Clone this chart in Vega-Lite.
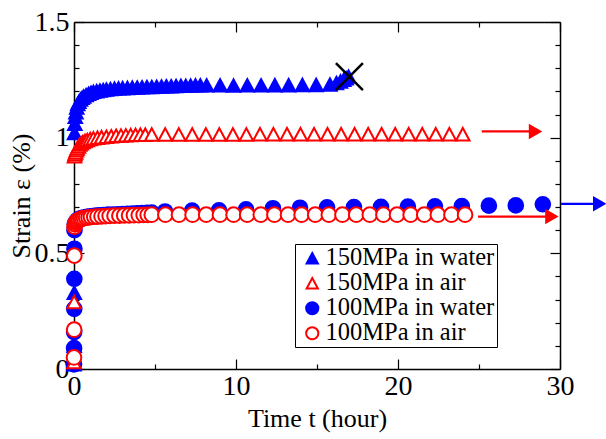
{
  "$schema": "https://vega.github.io/schema/vega-lite/v6.json",
  "width": 486,
  "height": 347,
  "autosize": {"type": "none"},
  "padding": {"left": 74, "top": 22, "right": 46, "bottom": 70},
  "config": {
    "view": {"stroke": null},
    "font": "Liberation Serif"
  },
  "data": {
    "values": [
      {"series": "150MPa in water", "t": 0, "strain": 0.02},
      {"series": "150MPa in water", "t": 0.01, "strain": 0.1},
      {"series": "150MPa in water", "t": 0.02, "strain": 0.33},
      {"series": "150MPa in water", "t": 0.03, "strain": 1.02},
      {"series": "150MPa in water", "t": 0.05, "strain": 1.06},
      {"series": "150MPa in water", "t": 0.08, "strain": 1.09},
      {"series": "150MPa in water", "t": 0.12, "strain": 1.11},
      {"series": "150MPa in water", "t": 0.17, "strain": 1.13},
      {"series": "150MPa in water", "t": 0.23, "strain": 1.145},
      {"series": "150MPa in water", "t": 0.3, "strain": 1.155},
      {"series": "150MPa in water", "t": 0.4, "strain": 1.165},
      {"series": "150MPa in water", "t": 0.5, "strain": 1.172},
      {"series": "150MPa in water", "t": 0.6, "strain": 1.178},
      {"series": "150MPa in water", "t": 0.75, "strain": 1.184},
      {"series": "150MPa in water", "t": 0.9, "strain": 1.19},
      {"series": "150MPa in water", "t": 1.05, "strain": 1.194},
      {"series": "150MPa in water", "t": 1.2, "strain": 1.198},
      {"series": "150MPa in water", "t": 1.4, "strain": 1.201},
      {"series": "150MPa in water", "t": 1.6, "strain": 1.204},
      {"series": "150MPa in water", "t": 1.8, "strain": 1.206},
      {"series": "150MPa in water", "t": 2.0, "strain": 1.208},
      {"series": "150MPa in water", "t": 2.25, "strain": 1.21},
      {"series": "150MPa in water", "t": 2.5, "strain": 1.212},
      {"series": "150MPa in water", "t": 2.75, "strain": 1.213},
      {"series": "150MPa in water", "t": 3.0, "strain": 1.214},
      {"series": "150MPa in water", "t": 3.3, "strain": 1.215},
      {"series": "150MPa in water", "t": 3.6, "strain": 1.216},
      {"series": "150MPa in water", "t": 3.9, "strain": 1.217},
      {"series": "150MPa in water", "t": 4.2, "strain": 1.218},
      {"series": "150MPa in water", "t": 4.5, "strain": 1.219},
      {"series": "150MPa in water", "t": 4.8, "strain": 1.219},
      {"series": "150MPa in water", "t": 5.1, "strain": 1.22},
      {"series": "150MPa in water", "t": 5.4, "strain": 1.221},
      {"series": "150MPa in water", "t": 5.7, "strain": 1.222},
      {"series": "150MPa in water", "t": 6.0, "strain": 1.222},
      {"series": "150MPa in water", "t": 6.3, "strain": 1.223},
      {"series": "150MPa in water", "t": 6.6, "strain": 1.224},
      {"series": "150MPa in water", "t": 6.9, "strain": 1.224},
      {"series": "150MPa in water", "t": 7.2, "strain": 1.225},
      {"series": "150MPa in water", "t": 7.5, "strain": 1.226},
      {"series": "150MPa in water", "t": 7.8, "strain": 1.226},
      {"series": "150MPa in water", "t": 8.19, "strain": 1.226},
      {"series": "150MPa in water", "t": 9.02, "strain": 1.226},
      {"series": "150MPa in water", "t": 9.85, "strain": 1.225},
      {"series": "150MPa in water", "t": 10.7, "strain": 1.226},
      {"series": "150MPa in water", "t": 11.55, "strain": 1.226},
      {"series": "150MPa in water", "t": 12.4, "strain": 1.227},
      {"series": "150MPa in water", "t": 13.25, "strain": 1.227},
      {"series": "150MPa in water", "t": 14.1, "strain": 1.228},
      {"series": "150MPa in water", "t": 14.95, "strain": 1.228},
      {"series": "150MPa in water", "t": 15.8, "strain": 1.23},
      {"series": "150MPa in water", "t": 16.2, "strain": 1.236},
      {"series": "150MPa in water", "t": 16.45, "strain": 1.243},
      {"series": "150MPa in water", "t": 16.65, "strain": 1.25},
      {"series": "150MPa in water", "t": 16.8, "strain": 1.257},
      {"series": "150MPa in water", "t": 16.95, "strain": 1.264},

      {"series": "100MPa in water", "t": 0, "strain": 0.02},
      {"series": "100MPa in water", "t": 0.005, "strain": 0.09},
      {"series": "100MPa in water", "t": 0.01, "strain": 0.16},
      {"series": "100MPa in water", "t": 0.015, "strain": 0.26},
      {"series": "100MPa in water", "t": 0.02, "strain": 0.39},
      {"series": "100MPa in water", "t": 0.025, "strain": 0.52},
      {"series": "100MPa in water", "t": 0.03, "strain": 0.6},
      {"series": "100MPa in water", "t": 0.05, "strain": 0.626},
      {"series": "100MPa in water", "t": 0.1, "strain": 0.634},
      {"series": "100MPa in water", "t": 0.2, "strain": 0.643},
      {"series": "100MPa in water", "t": 0.3, "strain": 0.648},
      {"series": "100MPa in water", "t": 0.45, "strain": 0.652},
      {"series": "100MPa in water", "t": 0.6, "strain": 0.655},
      {"series": "100MPa in water", "t": 0.8, "strain": 0.658},
      {"series": "100MPa in water", "t": 1.0, "strain": 0.66},
      {"series": "100MPa in water", "t": 1.25, "strain": 0.662},
      {"series": "100MPa in water", "t": 1.5, "strain": 0.664},
      {"series": "100MPa in water", "t": 1.8, "strain": 0.665},
      {"series": "100MPa in water", "t": 2.1, "strain": 0.667},
      {"series": "100MPa in water", "t": 2.4, "strain": 0.668},
      {"series": "100MPa in water", "t": 2.7, "strain": 0.669},
      {"series": "100MPa in water", "t": 3.0, "strain": 0.67},
      {"series": "100MPa in water", "t": 3.3, "strain": 0.671},
      {"series": "100MPa in water", "t": 3.6, "strain": 0.672},
      {"series": "100MPa in water", "t": 3.9, "strain": 0.673},
      {"series": "100MPa in water", "t": 4.2, "strain": 0.674},
      {"series": "100MPa in water", "t": 4.5, "strain": 0.675},
      {"series": "100MPa in water", "t": 4.8, "strain": 0.676},
      {"series": "100MPa in water", "t": 5.62, "strain": 0.681},
      {"series": "100MPa in water", "t": 7.29, "strain": 0.685},
      {"series": "100MPa in water", "t": 8.95, "strain": 0.686},
      {"series": "100MPa in water", "t": 10.62, "strain": 0.69},
      {"series": "100MPa in water", "t": 12.28, "strain": 0.695},
      {"series": "100MPa in water", "t": 13.95, "strain": 0.697},
      {"series": "100MPa in water", "t": 15.62, "strain": 0.699},
      {"series": "100MPa in water", "t": 17.28, "strain": 0.7},
      {"series": "100MPa in water", "t": 18.95, "strain": 0.701},
      {"series": "100MPa in water", "t": 20.61, "strain": 0.702},
      {"series": "100MPa in water", "t": 22.28, "strain": 0.703},
      {"series": "100MPa in water", "t": 23.94, "strain": 0.704},
      {"series": "100MPa in water", "t": 25.61, "strain": 0.706},
      {"series": "100MPa in water", "t": 27.27, "strain": 0.707},
      {"series": "100MPa in water", "t": 28.94, "strain": 0.712},

      {"series": "150MPa in air", "t": 0, "strain": 0.03},
      {"series": "150MPa in air", "t": 0.01, "strain": 0.29},
      {"series": "150MPa in air", "t": 0.03, "strain": 0.92},
      {"series": "150MPa in air", "t": 0.06, "strain": 0.928},
      {"series": "150MPa in air", "t": 0.1, "strain": 0.936},
      {"series": "150MPa in air", "t": 0.15, "strain": 0.945},
      {"series": "150MPa in air", "t": 0.2, "strain": 0.953},
      {"series": "150MPa in air", "t": 0.28, "strain": 0.962},
      {"series": "150MPa in air", "t": 0.36, "strain": 0.97},
      {"series": "150MPa in air", "t": 0.45, "strain": 0.976},
      {"series": "150MPa in air", "t": 0.55, "strain": 0.981},
      {"series": "150MPa in air", "t": 0.68, "strain": 0.986},
      {"series": "150MPa in air", "t": 0.82, "strain": 0.99},
      {"series": "150MPa in air", "t": 1.0, "strain": 0.994},
      {"series": "150MPa in air", "t": 1.2, "strain": 0.997},
      {"series": "150MPa in air", "t": 1.45, "strain": 1.0},
      {"series": "150MPa in air", "t": 1.7, "strain": 1.002},
      {"series": "150MPa in air", "t": 2.0, "strain": 1.004},
      {"series": "150MPa in air", "t": 2.3, "strain": 1.006},
      {"series": "150MPa in air", "t": 2.6, "strain": 1.008},
      {"series": "150MPa in air", "t": 2.9, "strain": 1.009},
      {"series": "150MPa in air", "t": 3.2, "strain": 1.01},
      {"series": "150MPa in air", "t": 3.5, "strain": 1.011},
      {"series": "150MPa in air", "t": 3.8, "strain": 1.012},
      {"series": "150MPa in air", "t": 4.1, "strain": 1.013},
      {"series": "150MPa in air", "t": 4.4, "strain": 1.013},
      {"series": "150MPa in air", "t": 4.8, "strain": 1.014},
      {"series": "150MPa in air", "t": 5.63, "strain": 1.014},
      {"series": "150MPa in air", "t": 6.47, "strain": 1.014},
      {"series": "150MPa in air", "t": 7.3, "strain": 1.014},
      {"series": "150MPa in air", "t": 8.14, "strain": 1.014},
      {"series": "150MPa in air", "t": 8.97, "strain": 1.014},
      {"series": "150MPa in air", "t": 9.81, "strain": 1.014},
      {"series": "150MPa in air", "t": 10.64, "strain": 1.014},
      {"series": "150MPa in air", "t": 11.48, "strain": 1.015},
      {"series": "150MPa in air", "t": 12.31, "strain": 1.015},
      {"series": "150MPa in air", "t": 13.15, "strain": 1.015},
      {"series": "150MPa in air", "t": 13.98, "strain": 1.015},
      {"series": "150MPa in air", "t": 14.82, "strain": 1.015},
      {"series": "150MPa in air", "t": 15.65, "strain": 1.015},
      {"series": "150MPa in air", "t": 16.49, "strain": 1.015},
      {"series": "150MPa in air", "t": 17.32, "strain": 1.015},
      {"series": "150MPa in air", "t": 18.16, "strain": 1.015},
      {"series": "150MPa in air", "t": 18.99, "strain": 1.015},
      {"series": "150MPa in air", "t": 19.83, "strain": 1.015},
      {"series": "150MPa in air", "t": 20.66, "strain": 1.015},
      {"series": "150MPa in air", "t": 21.5, "strain": 1.015},
      {"series": "150MPa in air", "t": 22.33, "strain": 1.015},
      {"series": "150MPa in air", "t": 23.17, "strain": 1.015},
      {"series": "150MPa in air", "t": 24.0, "strain": 1.015},

      {"series": "100MPa in air", "t": 0, "strain": 0.05},
      {"series": "100MPa in air", "t": 0.01, "strain": 0.17},
      {"series": "100MPa in air", "t": 0.02, "strain": 0.49},
      {"series": "100MPa in air", "t": 0.03, "strain": 0.615},
      {"series": "100MPa in air", "t": 0.06, "strain": 0.625},
      {"series": "100MPa in air", "t": 0.1, "strain": 0.632},
      {"series": "100MPa in air", "t": 0.15, "strain": 0.637},
      {"series": "100MPa in air", "t": 0.22, "strain": 0.641},
      {"series": "100MPa in air", "t": 0.3, "strain": 0.645},
      {"series": "100MPa in air", "t": 0.4, "strain": 0.648},
      {"series": "100MPa in air", "t": 0.5, "strain": 0.65},
      {"series": "100MPa in air", "t": 0.62, "strain": 0.652},
      {"series": "100MPa in air", "t": 0.75, "strain": 0.654},
      {"series": "100MPa in air", "t": 0.9, "strain": 0.655},
      {"series": "100MPa in air", "t": 1.05, "strain": 0.657},
      {"series": "100MPa in air", "t": 1.25, "strain": 0.658},
      {"series": "100MPa in air", "t": 1.45, "strain": 0.659},
      {"series": "100MPa in air", "t": 1.7, "strain": 0.66},
      {"series": "100MPa in air", "t": 1.95, "strain": 0.661},
      {"series": "100MPa in air", "t": 2.2, "strain": 0.662},
      {"series": "100MPa in air", "t": 2.5, "strain": 0.663},
      {"series": "100MPa in air", "t": 2.8, "strain": 0.663},
      {"series": "100MPa in air", "t": 3.1, "strain": 0.664},
      {"series": "100MPa in air", "t": 3.4, "strain": 0.664},
      {"series": "100MPa in air", "t": 3.7, "strain": 0.665},
      {"series": "100MPa in air", "t": 4.0, "strain": 0.665},
      {"series": "100MPa in air", "t": 4.3, "strain": 0.666},
      {"series": "100MPa in air", "t": 4.55, "strain": 0.666},
      {"series": "100MPa in air", "t": 4.8, "strain": 0.667},
      {"series": "100MPa in air", "t": 5.64, "strain": 0.667},
      {"series": "100MPa in air", "t": 6.48, "strain": 0.667},
      {"series": "100MPa in air", "t": 7.32, "strain": 0.667},
      {"series": "100MPa in air", "t": 8.16, "strain": 0.667},
      {"series": "100MPa in air", "t": 9.01, "strain": 0.667},
      {"series": "100MPa in air", "t": 9.85, "strain": 0.667},
      {"series": "100MPa in air", "t": 10.69, "strain": 0.667},
      {"series": "100MPa in air", "t": 11.53, "strain": 0.667},
      {"series": "100MPa in air", "t": 12.37, "strain": 0.667},
      {"series": "100MPa in air", "t": 13.21, "strain": 0.667},
      {"series": "100MPa in air", "t": 14.05, "strain": 0.667},
      {"series": "100MPa in air", "t": 14.89, "strain": 0.667},
      {"series": "100MPa in air", "t": 15.73, "strain": 0.667},
      {"series": "100MPa in air", "t": 16.57, "strain": 0.667},
      {"series": "100MPa in air", "t": 17.42, "strain": 0.667},
      {"series": "100MPa in air", "t": 18.26, "strain": 0.667},
      {"series": "100MPa in air", "t": 19.1, "strain": 0.667},
      {"series": "100MPa in air", "t": 19.94, "strain": 0.667},
      {"series": "100MPa in air", "t": 20.78, "strain": 0.667},
      {"series": "100MPa in air", "t": 21.62, "strain": 0.667},
      {"series": "100MPa in air", "t": 22.46, "strain": 0.667},
      {"series": "100MPa in air", "t": 23.3, "strain": 0.667},
      {"series": "100MPa in air", "t": 24.14, "strain": 0.667}
    ]
  },
  "layer": [
    {
      "mark": {"type": "point", "opacity": 1, "strokeWidth": 2, "size": 215},
      "encoding": {
        "x": {
          "field": "t", "type": "quantitative",
          "scale": {"domain": [0, 30], "nice": false, "zero": false},
          "axis": {
            "orient": "bottom",
            "values": [0, 5, 10, 15, 20, 25, 30],
            "labelExpr": "datum.value % 10 === 0 ? format(datum.value, 'd') : ''",
            "grid": false, "tickColor": "black", "tickWidth": 1.2,
            "tickSize": {"condition": {"test": "datum.value % 10 === 0", "value": -10}, "value": -5},
            "domainColor": "black", "domainWidth": 1.5,
            "labelFont": "Liberation Serif", "labelFontSize": 28, "labelColor": "black",
            "labelPadding": 13, "labelFlush": false, "labelOverlap": false,
            "title": "Time t (hour)", "titleFont": "Liberation Serif", "titleFontSize": 26,
            "titleFontWeight": "normal", "titleColor": "black", "titlePadding": 0
          }
        },
        "y": {
          "field": "strain", "type": "quantitative",
          "scale": {"domain": [0, 1.5], "nice": false, "zero": false},
          "axis": {
            "orient": "left",
            "values": [0, 0.1, 0.2, 0.3, 0.4, 0.5, 0.6, 0.7, 0.8, 0.9, 1, 1.1, 1.2, 1.3, 1.4, 1.5],
            "labelExpr": "abs(datum.value * 2 - round(datum.value * 2)) < 1e-6 ? format(datum.value, '~g') : ''",
            "grid": false, "tickColor": "black", "tickWidth": 1.2,
            "tickSize": {"condition": {"test": "abs(datum.value * 2 - round(datum.value * 2)) < 1e-6", "value": -10}, "value": -5},
            "domainColor": "black", "domainWidth": 1.5,
            "labelFont": "Liberation Serif", "labelFontSize": 28, "labelColor": "black",
            "labelPadding": 15, "labelFlush": false, "labelOverlap": false,
            "title": "Strain ε (%)", "titleFont": "Liberation Serif", "titleFontSize": 26,
            "titleFontWeight": "normal", "titleColor": "black", "titlePadding": 0
          }
        },
        "shape": {
          "field": "series", "type": "nominal",
          "scale": {
            "domain": ["150MPa in water", "150MPa in air", "100MPa in water", "100MPa in air"],
            "range": ["M0,-0.85L0.92,0.85L-0.92,0.85Z", "M0,-0.85L0.92,0.85L-0.92,0.85Z", "circle", "circle"]
          },
          "legend": {
            "orient": "none", "legendX": 221, "legendY": 222, "title": null,
            "fillColor": "white", "strokeColor": "black", "padding": 2, "cornerRadius": 0,
            "labelFont": "Liberation Serif", "labelFontSize": 24.5, "labelColor": "black",
            "labelLimit": 400,
            "labelOffset": 1, "symbolOffset": 3, "rowPadding": 0,
            "symbolSize": 150, "symbolStrokeWidth": 2
          }
        },
        "fill": {
          "field": "series", "type": "nominal",
          "scale": {
            "domain": ["150MPa in water", "150MPa in air", "100MPa in water", "100MPa in air"],
            "range": ["#0000ff", "#ffffff", "#0000ff", "#ffffff"]
          }
        },
        "stroke": {
          "field": "series", "type": "nominal",
          "scale": {
            "domain": ["150MPa in water", "150MPa in air", "100MPa in water", "100MPa in air"],
            "range": ["#0000ff", "#ff0000", "#0000ff", "#ff0000"]
          }
        }
      }
    },
    {
      "data": {
        "values": [
          {"series": "150MPa in air", "t": 25.17, "t2": 28.3, "strain": 1.027, "head": 28.49},
          {"series": "100MPa in air", "t": 24.94, "t2": 29.3, "strain": 0.659, "head": 29.5},
          {"series": "100MPa in water", "t": 30.07, "t2": 32.2, "strain": 0.714, "head": 32.45}
        ]
      },
      "layer": [
        {
          "mark": {"type": "rule", "strokeWidth": 2.2},
          "encoding": {
            "x": {"field": "t", "type": "quantitative", "scale": {"domain": [0, 30], "nice": false, "zero": false}, "axis": null},
            "x2": {"field": "t2"},
            "y": {"field": "strain", "type": "quantitative", "scale": {"domain": [0, 1.5], "nice": false, "zero": false}, "axis": null},
            "color": {
              "field": "series", "type": "nominal",
              "scale": {
                "domain": ["150MPa in water", "150MPa in air", "100MPa in water", "100MPa in air"],
                "range": ["#0000ff", "#ff0000", "#0000ff", "#ff0000"]
              },
              "legend": null
            }
          }
        },
        {
          "mark": {"type": "point", "shape": "triangle-right", "filled": true, "opacity": 1, "size": 240},
          "encoding": {
            "x": {"field": "head", "type": "quantitative", "scale": {"domain": [0, 30], "nice": false, "zero": false}, "axis": null},
            "y": {"field": "strain", "type": "quantitative", "scale": {"domain": [0, 1.5], "nice": false, "zero": false}, "axis": null},
            "color": {"field": "series", "type": "nominal", "legend": null}
          }
        }
      ]
    },
    {
      "data": {"values": [{"t": 17.0, "strain": 1.264}]},
      "mark": {"type": "point", "shape": "M-1,-1L1,1M1,-1L-1,1", "stroke": "black", "strokeWidth": 2.5, "opacity": 1, "size": 729},
      "encoding": {
        "x": {
          "field": "t", "type": "quantitative",
          "scale": {"domain": [0, 30], "nice": false, "zero": false},
          "axis": {
            "orient": "top", "values": [0, 5, 10, 15, 20, 25, 30], "labels": false, "title": null,
            "grid": false, "tickColor": "black", "tickWidth": 1.2,
            "tickSize": {"condition": {"test": "datum.value % 10 === 0", "value": -10}, "value": -5},
            "domainColor": "black", "domainWidth": 1.5
          }
        },
        "y": {
          "field": "strain", "type": "quantitative",
          "scale": {"domain": [0, 1.5], "nice": false, "zero": false},
          "axis": {
            "orient": "right",
            "values": [0, 0.1, 0.2, 0.3, 0.4, 0.5, 0.6, 0.7, 0.8, 0.9, 1, 1.1, 1.2, 1.3, 1.4, 1.5],
            "labels": false, "title": null,
            "grid": false, "tickColor": "black", "tickWidth": 1.2,
            "tickSize": {"condition": {"test": "abs(datum.value * 2 - round(datum.value * 2)) < 1e-6", "value": -10}, "value": -5},
            "domainColor": "black", "domainWidth": 1.5
          }
        }
      }
    }
  ],
  "resolve": {"axis": {"x": "independent", "y": "independent"}}
}
